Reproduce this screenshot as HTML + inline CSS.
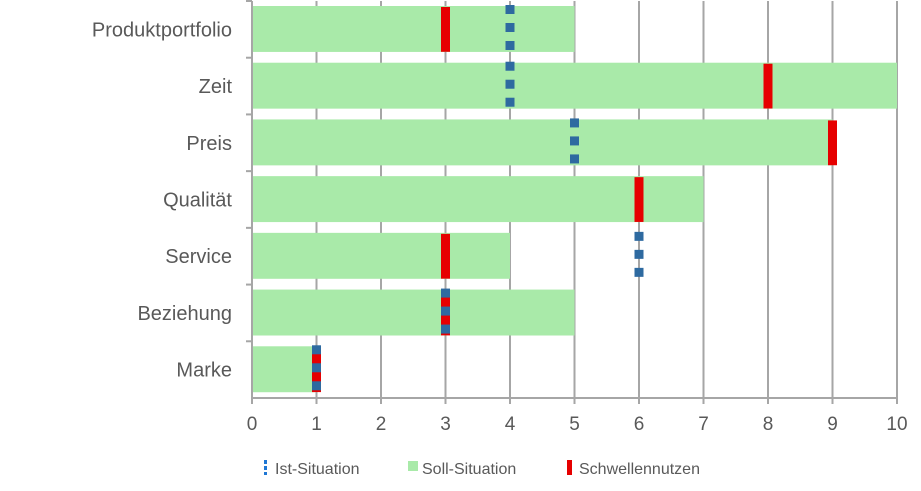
<!DOCTYPE html>
<html><head><meta charset="utf-8"><style>
body{margin:0;background:#fff;}
svg{display:block;font-family:"Liberation Sans",Arial,sans-serif;}
</style></head><body>
<svg id="c" width="921" height="491"></svg>
<script>
const categories=["Produktportfolio","Zeit","Preis","Qualität","Service","Beziehung","Marke"];
const sollValues=[5,10,9,7,4,5,1];
const schwelleValues=[3,8,9,6,3,3,1];
const istValues=[4,4,5,null,6,3,1];
const xTicks=[0,1,2,3,4,5,6,7,8,9,10];
const NS="http://www.w3.org/2000/svg";
const svg=document.getElementById('c');
const x0=252,x1=897,yTop=1,yBot=398,xMax=10;
const band=(yBot-yTop)/categories.length;
const X=v=>x0+(x1-x0)*v/xMax;
const Y=i=>yTop+band*i;
function mk(t,a,p){const e=document.createElementNS(NS,t);for(const k in a)e.setAttribute(k,a[k]);(p||svg).appendChild(e);return e;}
// grid
xTicks.forEach(t=>{
 const g=mk('line',{x1:X(t),x2:X(t),y1:yTop,y2:yBot,stroke:'#a6a6a6','stroke-width':2});
 
 
 const l=mk('text',{x:X(t),y:430,'text-anchor':'middle','font-size':19,fill:'#595959'});
 l.textContent=t;
 
 
});
// bars
categories.forEach((c,i)=>{
 const b=mk('rect',{x:X(0),y:Y(i)+5,width:X(sollValues[i])-X(0),height:band*0.81,fill:'#a9eaa9'});
 
 
 const r=mk('rect',{x:X(schwelleValues[i])-4.5,y:Y(i)+6,width:9,height:band*0.79,fill:'#e60000'});
 
 
 const l=mk('text',{x:232,y:Y(i)+band/2+7,'text-anchor':'end','font-size':20,fill:'#595959'});
 l.textContent=c;
 
 
 const tk=mk('line',{x1:246,x2:252,y1:Y(i),y2:Y(i),stroke:'#a6a6a6','stroke-width':2});
 
 
});
categories.forEach((c,i)=>{
 if(istValues[i]==null)return;
 [0,1,2].forEach(k=>{
  const s=mk('rect',{x:X(istValues[i])-4.5,y:Y(i)+4+k*18,width:9,height:9,fill:'#2e6aa0'});
  
  
 });
});
// axes
const ax=mk('line',{x1:X(0),x2:X(10),y1:yBot,y2:yBot,stroke:'#a6a6a6','stroke-width':2});

const ay=mk('line',{x1:X(0),x2:X(0),y1:yTop,y2:yBot+6,stroke:'#a6a6a6','stroke-width':2});

xTicks.forEach(t=>{mk('line',{x1:X(t),x2:X(t),y1:yBot,y2:yBot+6,stroke:'#a6a6a6','stroke-width':2});});
// legend
const lg=mk('g',{});

[[261,'#1f77d4','Ist-Situation','dash'],[408,'#a9eaa9','Soll-Situation','box'],[565,'#e60000','Schwellennutzen','bar']].forEach(([lx,col,txt,kind],j)=>{
 const e=mk('g',{},lg);
 
 
 if(kind==='dash'){mk('rect',{x:lx+3,y:460,width:3,height:4,fill:col},e);mk('rect',{x:lx+3,y:466,width:3,height:4,fill:col},e);mk('rect',{x:lx+3,y:472,width:3,height:3,fill:col},e);}
 else if(kind==='box')mk('rect',{x:lx,y:461,width:10,height:10,fill:col},e);
 else mk('rect',{x:lx+2,y:460,width:5,height:15,fill:col},e);
 const t=mk('text',{x:lx+14,y:474,'font-size':16,fill:'#595959'},e);t.textContent=txt;
});
</script>
</body></html>
